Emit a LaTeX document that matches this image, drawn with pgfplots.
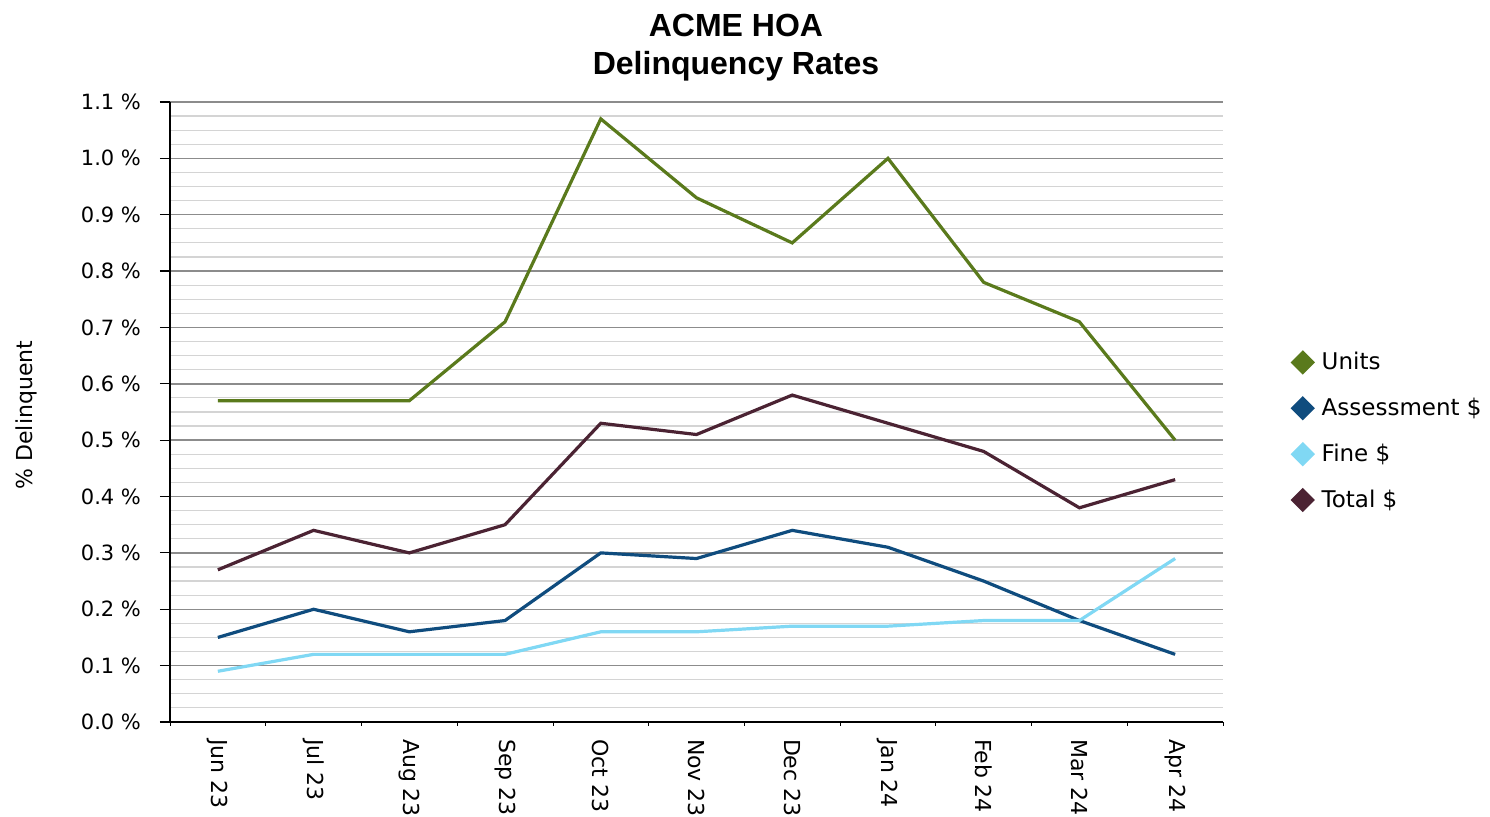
\documentclass[border=0pt]{standalone}
\usepackage{pgfplots}
\pgfplotsset{compat=1.18}
\usepackage{fontspec}
\setmainfont{DejaVu Sans}
\newfontfamily\titlefont{Liberation Sans}
\definecolor{cUnits}{HTML}{5A7A1C}
\definecolor{cAssess}{HTML}{0F4C7E}
\definecolor{cFine}{HTML}{80D8F4}
\definecolor{cTotal}{HTML}{4B2333}
\definecolor{majgrid}{HTML}{8C8C8C}
\definecolor{mingrid}{HTML}{D4D4D4}
\begin{document}
\begin{tikzpicture}
\useasboundingbox[fill=white] (-85pt,-47.5pt) rectangle (660pt,361pt);
\begin{axis}[
  scale only axis,
  width=526.5pt, height=310pt,
  xmin=-0.5, xmax=10.5,
  ymin=0, ymax=1.1,
  axis x line*=bottom, axis y line*=left,
  axis line style={black, line width=0.8pt, -},
  tick align=outside,
  major tick length=1.8pt,
  xtick={-0.5,0.5,...,10.5},
  xticklabels={},
  extra x ticks={0,1,2,3,4,5,6,7,8,9,10},
  extra x tick labels={Jun 23,Jul 23,Aug 23,Sep 23,Oct 23,Nov 23,Dec 23,Jan 24,Feb 24,Mar 24,Apr 24},
  extra x tick style={major tick length=0pt, xticklabel style={yshift=-5pt, rotate=-90, anchor=west, font=\fontsize{11}{13}\selectfont}},
  xtick style={black, line width=0.4pt},
  ytick={0,0.1,...,1.1},
  yticklabels={},
  extra y ticks={0,0.1,0.2,0.3,0.4,0.5,0.6,0.7,0.8,0.9,1.0,1.1},
  extra y tick labels={0.0 \%,0.1 \%,0.2 \%,0.3 \%,0.4 \%,0.5 \%,0.6 \%,0.7 \%,0.8 \%,0.9 \%,1.0 \%,1.1 \%},
  extra y tick style={major tick length=5pt, grid=none, yticklabel style={font=\fontsize{10.5}{12}\selectfont, xshift=-6pt}},
  ytick style={black, line width=0.6pt},
  minor y tick num=3,
  minor tick length=0pt,
  ymajorgrids, yminorgrids,
  major grid style={majgrid, line width=0.7pt},
  minor grid style={mingrid, line width=0.6pt},
  title={ACME HOA\\Delinquency Rates},
  title style={at={(0.5375,1.069)}, anchor=center, align=center, font=\titlefont\bfseries\fontsize{16}{19}\selectfont},
  ylabel={\% Delinquent},
  ylabel style={at={(axis description cs:-0.136,0.495)}, anchor=center, font=\fontsize{11}{13}\selectfont},
  legend style={at={(1.066,0.469)}, anchor=west, draw=none, fill=none, font=\fontsize{11.5}{13}\selectfont, row sep=8.7pt, column sep=2.5pt, inner sep=0pt},
  legend cell align=left,
  legend image code/.code={\draw[#1, only marks, mark=square*, mark size=3.5pt, mark options={rotate=45}] plot coordinates {(0.1cm,0cm)};},
  legend style={nodes={inner xsep=2pt}},
  every axis plot/.append style={line width=1.6pt},
]
\addplot[cUnits] coordinates {(0,0.57) (1,0.57) (2,0.57) (3,0.71) (4,1.07) (5,0.93) (6,0.85) (7,1.00) (8,0.78) (9,0.71) (10,0.50)};
\addlegendentry{Units}
\addplot[cAssess] coordinates {(0,0.15) (1,0.20) (2,0.16) (3,0.18) (4,0.30) (5,0.29) (6,0.34) (7,0.31) (8,0.25) (9,0.18) (10,0.12)};
\addlegendentry{Assessment \$}
\addplot[cFine] coordinates {(0,0.09) (1,0.12) (2,0.12) (3,0.12) (4,0.16) (5,0.16) (6,0.17) (7,0.17) (8,0.18) (9,0.18) (10,0.29)};
\addlegendentry{Fine \$}
\addplot[cTotal] coordinates {(0,0.27) (1,0.34) (2,0.30) (3,0.35) (4,0.53) (5,0.51) (6,0.58) (7,0.53) (8,0.48) (9,0.38) (10,0.43)};
\addlegendentry{Total \$}
\end{axis}
\end{tikzpicture}
\end{document}
